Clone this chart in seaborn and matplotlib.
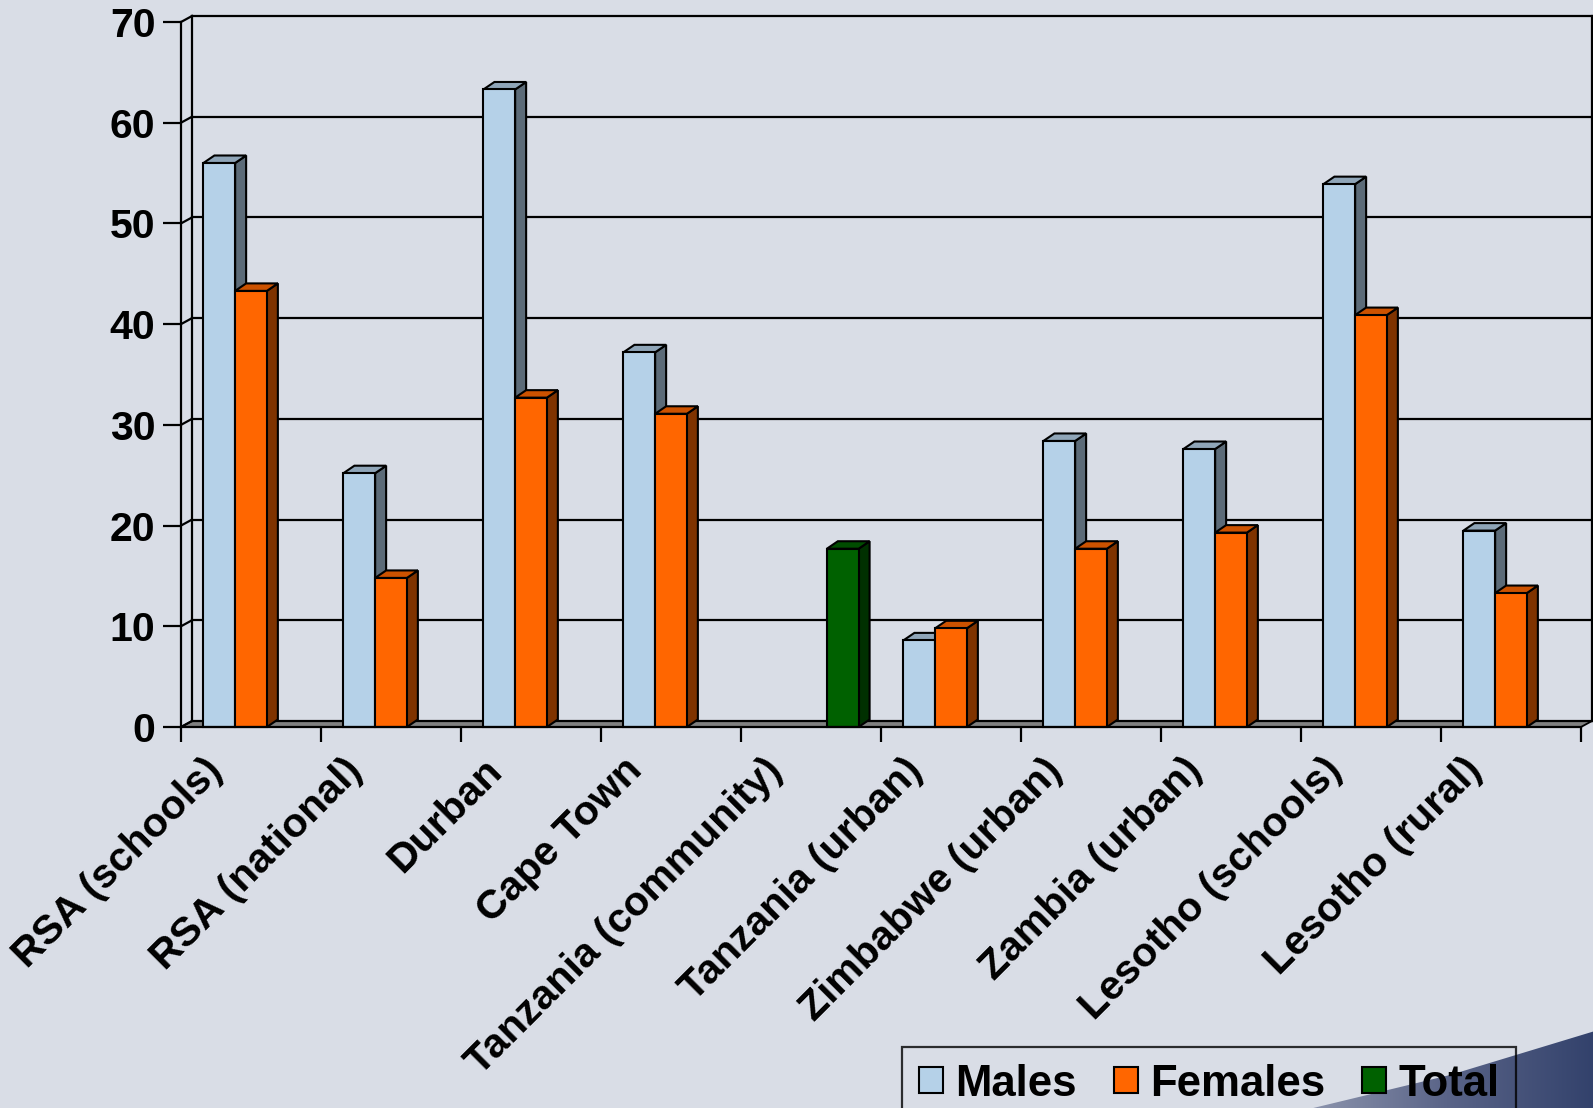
import numpy as np
import pandas as pd
import matplotlib
matplotlib.use("Agg")
import matplotlib.pyplot as plt
from matplotlib.patches import Polygon, Patch, Rectangle
from matplotlib.transforms import ScaledTranslation
import seaborn as sns


categories = ["RSA (schools)", "RSA (national)", "Durban", "Cape Town",
              "Tanzania (community)", "Tanzania (urban)", "Zimbabwe (urban)",
              "Zambia (urban)", "Lesotho (schools)", "Lesotho (rural)"]
males = [56.0, 25.2, 63.3, 37.2, np.nan, 8.6, 28.4, 27.6, 53.9, 19.5]
females = [43.3, 14.8, 32.7, 31.1, np.nan, 9.8, 17.7, 19.3, 40.9, 13.3]
total = [np.nan, np.nan, np.nan, np.nan, 17.7, np.nan, np.nan, np.nan, np.nan, np.nan]
series = ["Males", "Females", "Total"]
yticks = [0, 10, 20, 30, 40, 50, 60, 70]

BG = "#D9DDE6"
front = {"Males": "#B5D1E8", "Females": "#FF6600", "Total": "#006100"}
side = {"Males": "#5C6B78", "Females": "#7F3300", "Total": "#003000"}
top = {"Males": "#8FA5B8", "Females": "#CC5200", "Total": "#004C00"}

W, H, DPI = 1593, 1108, 100


def main():
    df = make_frame()
    fig = plt.figure(figsize=(W / DPI, H / DPI), dpi=DPI, facecolor=BG)
    plt.rcParams["font.family"] = ["Liberation Sans", "DejaVu Sans"]
    plt.rcParams["font.weight"] = "bold"

    draw_corner(fig)

    ax = fig.add_axes([181 / W, 1 - 727 / H, 1400 / W, 705 / H])
    ax.set_facecolor("none")
    sns.barplot(df, x="site", y="value", hue="series", order=categories,
                hue_order=series, palette=front, width=0.68, dodge=True,
                legend=False, ax=ax, edgecolor="black", linewidth=1.5,
                saturation=1, err_kws={"linewidth": 0})
    ax.set_xlim(-0.5, 9.5)
    ax.set_ylim(0, 70)

    bars = [p for p in ax.patches if isinstance(p, Rectangle) and p.get_height() > 0]
    draw_walls(ax)
    extrude_bars(ax, bars)
    style_axes(fig, ax)
    add_legend(fig)

    fig.savefig("out.png", dpi=DPI, facecolor=BG)


def make_frame():
    rows = []
    for name, vals in zip(series, [males, females, total]):
        for cat, v in zip(categories, vals):
            if not np.isnan(v):
                rows.append((cat, name, v))
    return pd.DataFrame(rows, columns=["site", "series", "value"])


def draw_walls(ax):
    # back wall / floor offsets (data units)
    wx, wy = 11 / 140, 6 / 10.07
    kw = dict(color="black", lw=1.6, clip_on=False, zorder=1)
    floor = Polygon([(-0.5, 0), (9.5, 0), (9.5 + wx, wy), (-0.5 + wx, wy)],
                    closed=True, facecolor="#808080", edgecolor="black",
                    lw=1.3, clip_on=False, zorder=1)
    ax.add_patch(floor)
    for v in yticks:
        ax.plot([-0.5 + wx, 9.5 + wx], [v + wy, v + wy], **kw)
        ax.plot([-0.5, -0.5 + wx], [v, v + wy], **kw)
    ax.plot([-0.5 + wx, -0.5 + wx], [wy, 70 + wy], **kw)
    ax.plot([9.5 + wx, 9.5 + wx], [wy, 70 + wy], **kw)


def extrude_bars(ax, bars):
    dx, dy = 11 / 140, 7.5 / 10.07
    bars = sorted(bars, key=lambda p: p.get_x())
    inv = {matplotlib.colors.to_hex(c): k for k, c in front.items()}
    for k, b in enumerate(bars):
        name = inv[matplotlib.colors.to_hex(b.get_facecolor())]
        x0, w, h = b.get_x(), b.get_width(), b.get_height()
        x1 = x0 + w
        z = 3 + 0.01 * k
        s = Polygon([(x1, 0), (x1 + dx, dy), (x1 + dx, h + dy), (x1, h)],
                    facecolor=side[name], edgecolor="black", lw=1.5,
                    zorder=z, clip_on=False)
        t = Polygon([(x0, h), (x0 + dx, h + dy), (x1 + dx, h + dy), (x1, h)],
                    facecolor=top[name], edgecolor="black", lw=1.5,
                    zorder=z, clip_on=False)
        ax.add_patch(s)
        ax.add_patch(t)
        b.set_zorder(z + 0.005)
        b.set_clip_on(False)


def style_axes(fig, ax):
    sns.despine(ax=ax)
    for sp in ["left", "bottom"]:
        ax.spines[sp].set_linewidth(1.6)
        ax.spines[sp].set_color("black")
        ax.spines[sp].set_zorder(5)
    ax.set_xlabel("")
    ax.set_ylabel("")
    ax.set_yticks(yticks)
    ax.set_yticklabels([str(v) for v in yticks], fontsize=29.5, fontweight="bold")
    ax.tick_params(axis="y", length=13, width=1.6, pad=5.5, direction="out")
    ax.set_xticks(range(len(categories)))
    ax.set_xticks(np.arange(-0.5, 10, 1), minor=True)
    ax.tick_params(axis="x", which="minor", length=11, width=1.6, direction="out")
    ax.tick_params(axis="x", which="major", length=0, pad=27)
    ax.set_xticklabels(categories, rotation=45, ha="right", va="center",
                       rotation_mode="anchor", fontsize=29.5, fontweight="bold")
    off = ScaledTranslation(-35 / DPI, 0, fig.dpi_scale_trans)
    for lab in ax.get_xticklabels():
        lab.set_transform(lab.get_transform() + off)


def add_legend(fig):
    handles = [Patch(facecolor=front[s], edgecolor="black", lw=1.5) for s in series]
    leg = fig.legend(handles, series, ncol=3, loc="upper left",
                     bbox_to_anchor=(902 / W, 1 - 1047 / H), frameon=True,
                     fancybox=False, fontsize=31.5, handlelength=0.55,
                     handleheight=0.55, handletextpad=0.28, columnspacing=0.85,
                     borderpad=0.38, borderaxespad=0)
    frame = leg.get_frame()
    frame.set_facecolor("none")
    frame.set_edgecolor("black")
    frame.set_linewidth(1.6)
    for t in leg.get_texts():
        t.set_fontweight("bold")


def draw_corner(fig):
    bg = fig.add_axes([0, 0, 1, 1], zorder=-1)
    bg.set_xlim(0, W)
    bg.set_ylim(H, 0)
    bg.axis("off")
    grad = np.linspace(0, 1, 256).reshape(1, -1)
    cmap = matplotlib.colors.LinearSegmentedColormap.from_list(
        "corner", ["#9098B0", "#5A6488", "#33426C"])
    im = bg.imshow(grad, cmap=cmap, extent=(1300, W, H, 1025), aspect="auto")
    clip = Polygon([(1305, H + 2), (1450, 1075), (W + 2, 1031), (W + 2, H + 2)],
                   closed=True, transform=bg.transData, facecolor="none",
                   edgecolor="none")
    bg.add_patch(clip)
    im.set_clip_path(clip)


if __name__ == "__main__":
    main()
